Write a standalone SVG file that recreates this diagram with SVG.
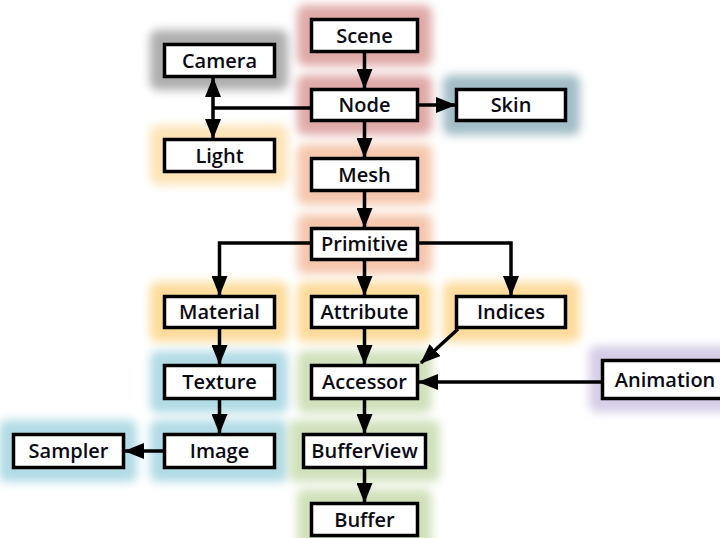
<svg xmlns="http://www.w3.org/2000/svg" width="720" height="538" viewBox="0 0 720 538">
<style>
.box{fill:#fff;stroke:#000;stroke-width:3.5}
.lbl{font-family:"Open Sans","Liberation Sans",sans-serif;font-size:20px;font-weight:600;fill:#0a0a14;text-anchor:middle}
.glow{filter:url(#blur)}
.c{fill:none;stroke:#000;stroke-width:3.5}
</style>
<defs>
<filter id="blur" x="-50%" y="-50%" width="200%" height="200%"><feGaussianBlur stdDeviation="5"/></filter>
<marker id="ah" markerWidth="20" markerHeight="16" refX="19" refY="8" orient="auto-start-reverse" markerUnits="userSpaceOnUse"><path d="M0,0 L20,8 L0,16 z" fill="#000"/></marker>
</defs>
<rect width="720" height="538" fill="#fff"/>
<g id="glows">
<rect class="glow" x="297" y="5" width="135" height="61" rx="8" fill="#e0aaa8"/>
<rect class="glow" x="297" y="75" width="135" height="60" rx="8" fill="#e0aaa8"/>
<rect class="glow" x="150" y="30" width="138" height="60" rx="8" fill="#aeaeae"/>
<rect class="glow" x="443" y="75" width="137" height="60" rx="8" fill="#a3bdc7"/>
<rect class="glow" x="150" y="125" width="138" height="60" rx="8" fill="#fde4b8"/>
<rect class="glow" x="297" y="144" width="135" height="61" rx="8" fill="#f5c8ae"/>
<rect class="glow" x="297" y="214" width="135" height="60" rx="8" fill="#f5c8ae"/>
<rect class="glow" x="150" y="282" width="138" height="60" rx="8" fill="#fddc9c"/>
<rect class="glow" x="297" y="282" width="135" height="60" rx="8" fill="#fddc9c"/>
<rect class="glow" x="443" y="282" width="137" height="60" rx="8" fill="#fddc9c"/>
<rect class="glow" x="150" y="351" width="138" height="62" rx="8" fill="#b2dbe6"/>
<rect class="glow" x="297" y="351" width="135" height="62" rx="8" fill="#d1e1bc"/>
<rect class="glow" x="589" y="346" width="156" height="66" rx="8" fill="#d6cde7"/>
<rect class="glow" x="-1" y="420" width="138" height="62" rx="8" fill="#b2dbe6"/>
<rect class="glow" x="150" y="420" width="138" height="62" rx="8" fill="#b2dbe6"/>
<rect class="glow" x="289" y="420" width="151" height="62" rx="8" fill="#d1e1bc"/>
<rect class="glow" x="297" y="489" width="135" height="61" rx="8" fill="#d1e1bc"/>
</g>
<g id="connectors">
<path class="c" d="M364.5,53 V88" marker-end="url(#ah)"/>
<path class="c" d="M419,105 H455" marker-end="url(#ah)"/>
<path class="c" d="M364.5,122 V157" marker-end="url(#ah)"/>
<path class="c" d="M310,108 H213"/>
<path class="c" d="M213,78 V138" marker-start="url(#ah)" marker-end="url(#ah)"/>
<path class="c" d="M364.5,192 V227" marker-end="url(#ah)"/>
<path class="c" d="M310,243 H219.5 V295" marker-end="url(#ah)"/>
<path class="c" d="M364.5,261 V295" marker-end="url(#ah)"/>
<path class="c" d="M419,243 H511 V295" marker-end="url(#ah)"/>
<path class="c" d="M219.5,329 V364" marker-end="url(#ah)"/>
<path class="c" d="M364.5,329 V364" marker-end="url(#ah)"/>
<path class="c" d="M458,329 L421,363" marker-end="url(#ah)"/>
<path class="c" d="M601,382 H419" marker-end="url(#ah)"/>
<path class="c" d="M219.5,400 V433" marker-end="url(#ah)"/>
<path class="c" d="M364.5,400 V433" marker-end="url(#ah)"/>
<path class="c" d="M163,451 H125" marker-end="url(#ah)"/>
<path class="c" d="M364.5,469 V502" marker-end="url(#ah)"/>
</g>
<g id="scene"><rect class="box" x="311.5" y="19.5" width="106" height="32"/><text class="lbl" x="364.5" y="42.5">Scene</text></g>
<g id="camera"><rect class="box" x="164.5" y="44.5" width="110" height="32"/><text class="lbl" x="219.5" y="67.5">Camera</text></g>
<g id="node"><rect class="box" x="311.5" y="89.5" width="106" height="31"/><text class="lbl" x="364.5" y="112">Node</text></g>
<g id="skin"><rect class="box" x="456.5" y="89.5" width="109" height="31"/><text class="lbl" x="511" y="112">Skin</text></g>
<g id="light"><rect class="box" x="164.5" y="139.5" width="110" height="32"/><text class="lbl" x="219.5" y="162.5">Light</text></g>
<g id="mesh"><rect class="box" x="311.5" y="158.5" width="106" height="32"/><text class="lbl" x="364.5" y="181.5">Mesh</text></g>
<g id="primitive"><rect class="box" x="311.5" y="228.5" width="106" height="31"/><text class="lbl" x="364.5" y="251">Primitive</text></g>
<g id="material"><rect class="box" x="164.5" y="296.5" width="110" height="31"/><text class="lbl" x="219.5" y="319">Material</text></g>
<g id="attribute"><rect class="box" x="311.5" y="296.5" width="106" height="31"/><text class="lbl" x="364.5" y="319">Attribute</text></g>
<g id="indices"><rect class="box" x="456.5" y="296.5" width="109" height="31"/><text class="lbl" x="511" y="319">Indices</text></g>
<g id="texture"><rect class="box" x="164.5" y="365.5" width="110" height="33"/><text class="lbl" x="219.5" y="389">Texture</text></g>
<g id="accessor"><rect class="box" x="311.5" y="365.5" width="106" height="33"/><text class="lbl" x="364.5" y="389">Accessor</text></g>
<g id="animation"><rect class="box" x="602.5" y="360.5" width="130" height="38"/><text class="lbl" x="665" y="386.5">Animation</text></g>
<g id="sampler"><rect class="box" x="13.5" y="434.5" width="110" height="33"/><text class="lbl" x="68.5" y="458">Sampler</text></g>
<g id="image"><rect class="box" x="164.5" y="434.5" width="110" height="33"/><text class="lbl" x="219.5" y="458">Image</text></g>
<g id="bufferview"><rect class="box" x="303.5" y="434.5" width="122" height="33"/><text class="lbl" x="364.5" y="458">BufferView</text></g>
<g id="buffer"><rect class="box" x="311.5" y="503.5" width="106" height="32"/><text class="lbl" x="364.5" y="526.5">Buffer</text></g>
</svg>
